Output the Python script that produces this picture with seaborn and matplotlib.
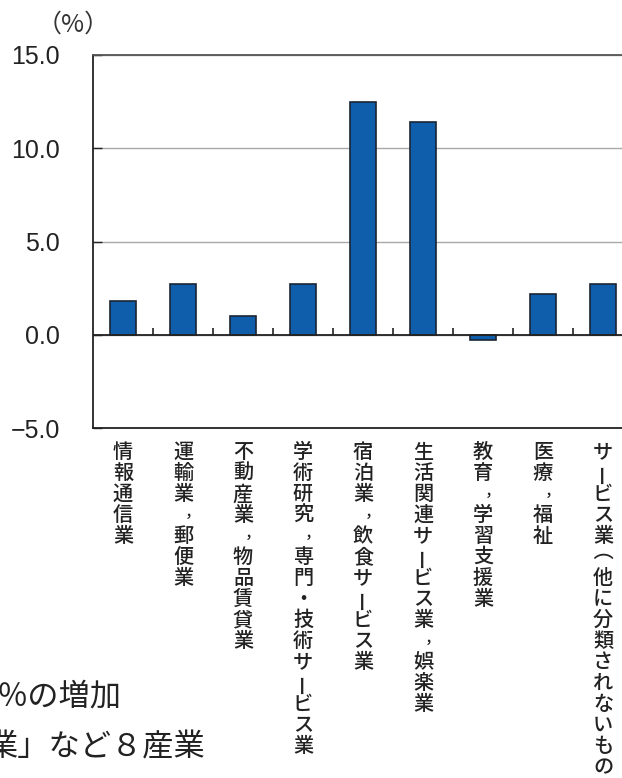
import numpy as np
import pandas as pd
import matplotlib
matplotlib.use("Agg")
import matplotlib.pyplot as plt
import matplotlib.transforms as mtransforms
import seaborn as sns

# データ
categories = [
    "情報通信業",
    "運輸業，郵便業",
    "不動産業，物品賃貸業",
    "学術研究，専門・技術サービス業",
    "宿泊業，飲食サービス業",
    "生活関連サービス業，娯楽業",
    "教育，学習支援業",
    "医療，福祉",
    "サービス業（他に分類されないもの）",
]
values = [1.8, 2.7, 1.0, 2.7, 12.5, 11.4, -0.3, 2.2, 2.7]
y_ticks = [-5.0, 0.0, 5.0, 10.0, 15.0]
y_tick_labels = ["−5.0", "0.0", "5.0", "10.0", "15.0"]
unit_label = "（%）"
body_lines = ["％の増加", "業」など８産業"]

W, H = 622, 778
JP = ["Noto Sans CJK JP", "DejaVu Sans"]

sns.set_style("white")
plt.rcParams["font.family"] = JP

df = pd.DataFrame({"category": categories, "value": values})

fig = plt.figure(figsize=(W / 100, H / 100), dpi=100)
fig.patch.set_facecolor("white")
ax = fig.add_axes([93 / W, 1 - 428 / H, 540 / W, 373 / H])

sns.barplot(data=df, x="category", y="value", color="#0f5eab", edgecolor="#1b2533",
            linewidth=1.2, width=0.42, saturation=1, ax=ax, zorder=2)

ax.set_xlim(-0.5, len(categories) - 0.5)
ax.set_ylim(y_ticks[0], y_ticks[-1])
ax.set_yticks(y_ticks)
ax.set_yticklabels(y_tick_labels, fontfamily="Liberation Sans", fontsize=18, color="#222222")
ax.tick_params(axis="y", direction="in", length=6.5, width=1.0, color="#222222", pad=24, left=True)
ax.set_xticks([])
ax.set_xlabel("")
ax.set_ylabel("")

# 目盛り線
ax.set_axisbelow(True)
ax.grid(axis="y", color="#a8a8a8", linewidth=1.0)
ax.axhline(0, color="#222222", linewidth=1.3, zorder=3)
ax.vlines(np.arange(len(categories) - 1) + 0.5, 0, 0.35, color="#222222", linewidth=1.2, zorder=3)

for side in ["left", "bottom"]:
    ax.spines[side].set_color("#222222")
    ax.spines[side].set_linewidth(1.3)
ax.spines["top"].set_color("#555555")
ax.spines["top"].set_linewidth(1.3)
ax.spines["right"].set_visible(False)

fig.text(73 / W, 1 - 25 / H, unit_label, fontsize=18, color="#333333", ha="center", va="center")

# 縦書きラベル
trans = mtransforms.blended_transform_factory(ax.transData, fig.transFigure)
pitch = 21 / H
top0 = 1 - 442 / H
for i, label in enumerate(categories):
    for k, ch in enumerate(label):
        yc = top0 - (k + 0.5) * pitch
        x = i
        rot = 0
        size = 14.5
        if ch == "ー":
            rot = 90
        elif ch in "（）":
            rot = -90
            x = i - 0.27
            yc = yc - 5 / H
        elif ch == "，":
            x = i + 0.15
            yc = yc + 0.15 * pitch
            size = 11
        ax.text(x, yc, ch, transform=trans, rotation=rot, rotation_mode="anchor",
                ha="center", va="center", fontsize=size, fontweight="medium",
                color="#222222", clip_on=False)

# 本文の一部
fig.text(122 / W, 1 - 697 / H, body_lines[0], fontsize=22.5, color="#222222", ha="right", va="center")
fig.text(206 / W, 1 - 747 / H, body_lines[1], fontsize=22.5, color="#222222", ha="right", va="center")

fig.savefig("out.png", dpi=100, facecolor="white")
